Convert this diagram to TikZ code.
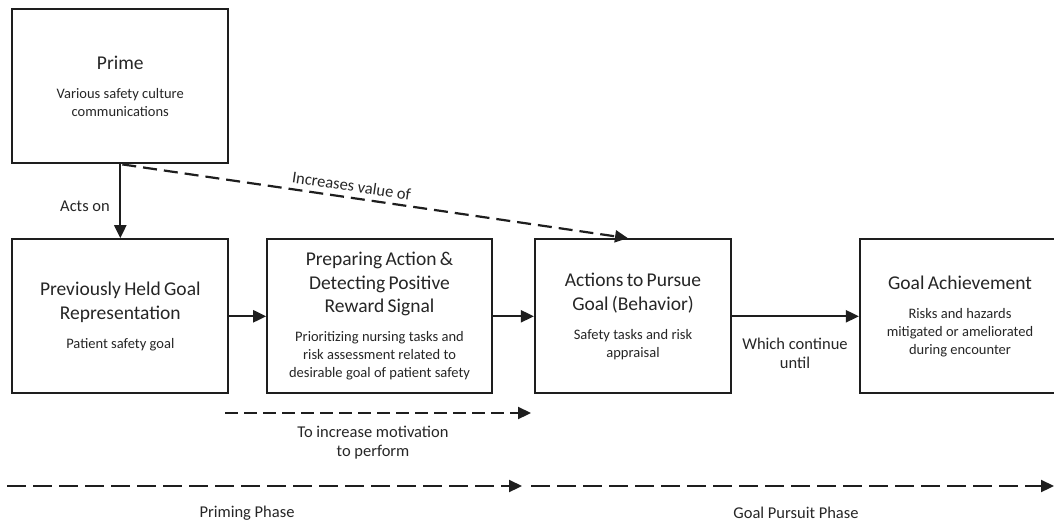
\documentclass[tikz,border=0pt]{standalone}
\usepackage{fontspec}
\setmainfont{Carlito}
\usetikzlibrary{arrows.meta}
\definecolor{ink}{HTML}{1E1E1E}
\definecolor{textc}{HTML}{262626}
% title and description blocks inside the stage boxes
\newcommand\boxtitle[1]{{\fontsize{19.5}{23.5}\selectfont #1\par}}
\newcommand\boxsub[1]{{\vspace{11pt}\fontsize{14.5}{18}\selectfont #1\par}}
\begin{document}
\begin{tikzpicture}[x=1pt,y=-1pt,
  stagebox/.style={draw=ink, line width=2.2pt, minimum height=154pt,
    inner xsep=4pt, inner ysep=0pt, align=center, text=textc},
  link/.style={draw=ink, line width=2.2pt, -{Triangle[length=13pt,width=12pt]}},
  dlink/.style={link, dash pattern=on 14pt off 7pt},
  motivlink/.style={link, dash pattern=on 13pt off 6pt},
  phase/.style={link, dash pattern=on 19pt off 7pt},
  lbl/.style={text=textc, font=\fontsize{16.5}{19}\selectfont, align=center, inner sep=0pt}]
\useasboundingbox (0,0) rectangle (1054,525);
\fill[white] (0,0) rectangle (1054,525);

% stages
\node[stagebox, minimum width=216pt, text width=208pt] (prime) at (120.3,86.3)
  {\boxtitle{Prime}\boxsub{Various safety culture\\communications}};
\node[stagebox, minimum width=216pt, text width=208pt] (prev) at (120.3,316.3)
  {\boxtitle{Previously Held Goal\\Representation}\boxsub{Patient safety goal}};
\node[stagebox, minimum width=224.4pt, text width=216.4pt] (prep) at (379.5,316.3)
  {\boxtitle{Preparing Action \&\\Detecting Positive\\Reward Signal}\boxsub{Prioritizing nursing tasks and\\risk assessment related to\\desirable goal of patient safety}};
\node[stagebox, minimum width=196pt, text width=188pt] (act) at (633,316.3)
  {\boxtitle{Actions to Pursue\\Goal (Behavior)}\boxsub{Safety tasks and risk\\appraisal}};
\node[stagebox, minimum width=200pt, text width=192pt] (goal) at (960,316.3)
  {\boxtitle{Goal Achievement}\boxsub{Risks and hazards\\mitigated or ameliorated\\during encounter}};

% connectors between stages
\draw[link] (prime.south) -- (prev.north);
\node[lbl] (acts) at (85,206) {Acts on};
\draw[dlink] ([xshift=2pt]prime.south) -- ([xshift=-5pt]act.north)
  node[pos=0.45, sloped, above=5pt, lbl] (incr) {Increases value of};
\draw[link] (prev.east) -- (prep.east -| prep.west);
\draw[link] (prep.east) -- (act.west);
\draw[link] (act.east) -- (goal.west);
\node[lbl] (cont) at (795,353.5) {Which continue\\until};

% motivation arrow
\coordinate (m1) at (225,413);
\coordinate (m2) at (531,413);
\draw[motivlink] (m1) -- (m2);
\node[lbl] (motiv) at (373,442.5) {To increase motivation\\to perform};

% phases
\coordinate (p1) at (7,486);
\coordinate (p2) at (522,486);
\coordinate (g1) at (531,486);
\coordinate (g2) at (1054,486);
\draw[phase] (p1) -- (p2);
\draw[phase] (g1) -- (g2);
\node[lbl] (priming) at (247,513) {Priming Phase};
\node[lbl] (pursuit) at (796,513) {Goal Pursuit Phase};
\end{tikzpicture}
\end{document}
